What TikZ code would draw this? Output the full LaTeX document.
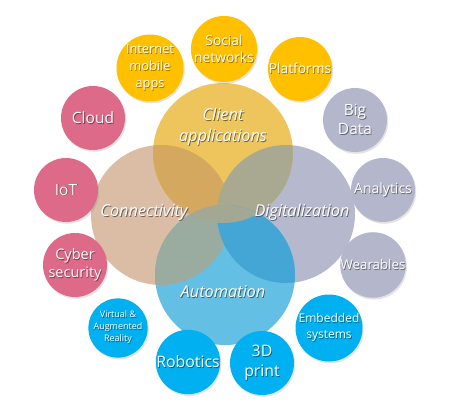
\documentclass[tikz,border=0pt]{standalone}
\usepackage{fontspec}
\setmainfont{Open Sans}
\usetikzlibrary{shadows}
\definecolor{clientc}{HTML}{EDC55C}
\definecolor{connc}{HTML}{DBBDA6}
\definecolor{digic}{HTML}{B6B9CE}
\definecolor{autoc}{HTML}{63C0E4}
\definecolor{clconc}{HTML}{D4A85E}
\definecolor{cldigc}{HTML}{A9A890}
\definecolor{auconc}{HTML}{9AACA0}
\definecolor{audigc}{HTML}{44A6D4}
\definecolor{claucc}{HTML}{A3A894}
\definecolor{pinkc}{HTML}{DD6A89}
\definecolor{yellowc}{HTML}{FFC000}
\definecolor{greyc}{HTML}{B4B7CC}
\definecolor{bluec}{HTML}{00B0F0}
\colorlet{shc}{black!40}
\newcommand{\fsz}[2]{\fontsize{#1}{#2}\selectfont}
\newcommand{\sh}[1]{\leavevmode\rlap{\hspace{0.8pt}\raisebox{-0.8pt}{\textcolor{shc}{#1}}}#1}
\begin{document}
\begin{tikzpicture}[x=1pt,y=-1pt,
  bigc/.style={circle, minimum size=140pt, inner sep=0pt},
  biglabel/.style={text=white, align=center, font=\itshape\fsz{16.3pt}{21pt}},
  smallc/.style={circle, minimum size=64pt, inner sep=0pt, text=white, align=center,
    drop shadow={opacity=0.22, shadow xshift=1.2pt, shadow yshift=-1.8pt}},
  pinkb/.style={smallc, fill=pinkc, execute at begin node={\colorlet{shc}{pinkc!55!black}}},
  yellowb/.style={smallc, fill=yellowc, execute at begin node={\colorlet{shc}{yellowc!60!black}}},
  greyb/.style={smallc, fill=greyc, execute at begin node={\colorlet{shc}{greyc!55!black}}},
  blueb/.style={smallc, fill=bluec, execute at begin node={\colorlet{shc}{bluec!55!black}}}]
\useasboundingbox (0,0) rectangle (457,409);
\fill[white] (0,0) rectangle (457,409);

% big circles
\node[bigc, fill=connc] (conn) at (161,215) {};
\node[bigc, fill=digic, minimum size=138pt] (digi) at (286,214) {};
\node[bigc, fill=clientc] (client) at (223,153) {};
\node[bigc, fill=autoc] (auto) at (225,275) {};

% overlaps
\begin{scope}
  \clip (client.center) circle (70pt);
  \fill[clconc] (conn.center) circle (70pt);
\end{scope}
\begin{scope}
  \clip (client.center) circle (70pt);
  \fill[cldigc] (digi.center) circle (69pt);
\end{scope}
\begin{scope}
  \clip (auto.center) circle (70pt);
  \fill[auconc] (conn.center) circle (70pt);
\end{scope}
\begin{scope}
  \clip (auto.center) circle (70pt);
  \fill[audigc] (digi.center) circle (69pt);
\end{scope}
\begin{scope}
  \clip (auto.center) circle (70pt);
  \fill[claucc] (client.center) circle (70pt);
\end{scope}

% big labels
\node[biglabel, execute at begin node={\colorlet{shc}{clientc!50!black}}] (clientlabel) at (223,127) {\sh{Client}\\\sh{applications}};
\node[biglabel, execute at begin node={\colorlet{shc}{connc!50!black}}] (connlabel) at (144,213) {\sh{Connectivity}};
\node[biglabel, execute at begin node={\colorlet{shc}{digic!50!black}}] (digilabel) at (302,213) {\sh{Digitalization}};
\node[biglabel, execute at begin node={\colorlet{shc}{autoc!50!black}}] (autolabel) at (223,292) {\sh{Automation}};

% small circles
\node[yellowb, font=\fsz{12.8pt}{17pt}] (apps) at (150,68) {\sh{Internet}\\\sh{mobile}\\\sh{apps}};
\node[yellowb, font=\fsz{13.8pt}{17pt}] (social) at (224,49) {\sh{Social}\\\sh{networks}};
\node[yellowb, font=\fsz{13.8pt}{17pt}] (platforms) at (300,69) {\sh{Platforms}};
\node[pinkb, font=\fsz{15.5pt}{19pt}] (cloud) at (93,118) {\sh{Cloud}};
\node[greyb, font=\fsz{15.5pt}{19pt}] (bigdata) at (355,120) {\sh{Big}\\\sh{Data}};
\node[pinkb, font=\fsz{15.5pt}{19pt}] (iot) at (66,190) {\sh{IoT}};
\node[greyb, font=\fsz{14pt}{17pt}] (analytics) at (383,190) {\sh{Analytics}};
\node[pinkb, font=\fsz{14.5pt}{18pt}] (cyber) at (75,265) {\sh{Cyber}\\\sh{security}};
\node[greyb, font=\fsz{13.3pt}{17pt}] (wearables) at (373,265) {\sh{Wearables}};
\node[blueb, minimum size=51pt, font=\fsz{9pt}{12pt}] (virtual) at (118,328) {\sh{Virtual \&}\\\sh{Augmented}\\\sh{Reality}};
\node[blueb, font=\fsz{15.8pt}{19pt}] (robotics) at (188,362) {\sh{Robotics}};
\node[blueb, font=\fsz{15.8pt}{20pt}] (print) at (262,363) {\sh{3D}\\\sh{print}};
\node[blueb, font=\fsz{12pt}{16pt}] (embedded) at (329,328) {\sh{Embedded}\\\sh{systems}};
\end{tikzpicture}
\end{document}
